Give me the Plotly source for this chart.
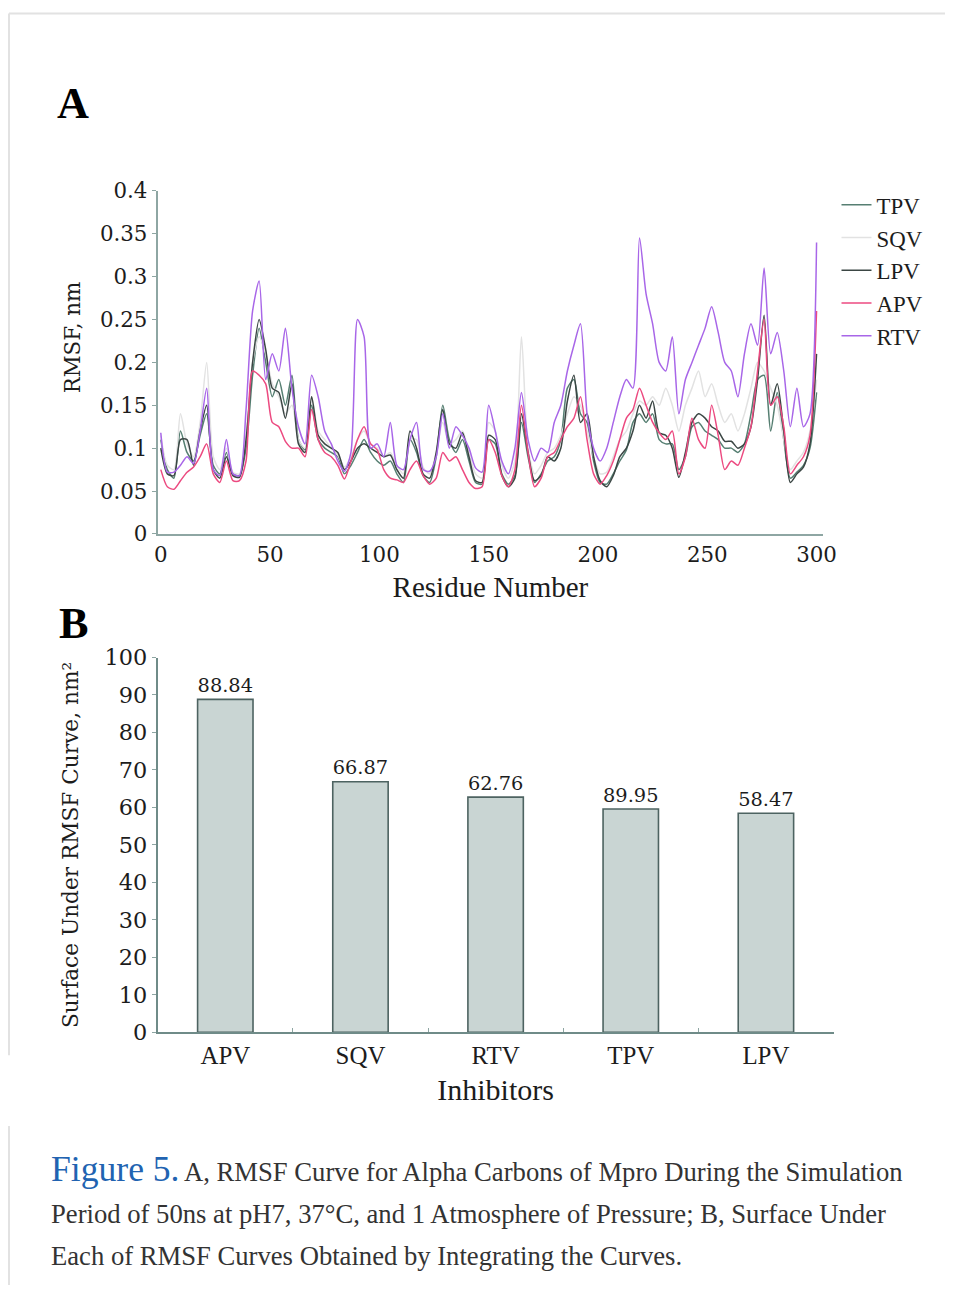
import plotly.graph_objects as go

W, H = 959, 1298

# ---------------- data: panel A (RMSF, nm) ----------------
residues = list(range(0, 301, 3))

rmsf_tpv = [0.110, 0.075, 0.065, 0.120, 0.095, 0.085, 0.115, 0.140, 0.080, 0.070,
            0.095, 0.070, 0.068, 0.100, 0.185, 0.240, 0.200, 0.160, 0.180, 0.150,
            0.185, 0.110, 0.098, 0.150, 0.110, 0.100, 0.095, 0.090, 0.070, 0.080,
            0.095, 0.110, 0.095, 0.085, 0.080, 0.085, 0.070, 0.060, 0.110, 0.095,
            0.068, 0.060, 0.090, 0.150, 0.110, 0.095, 0.110, 0.085, 0.060, 0.058,
            0.110, 0.105, 0.070, 0.058, 0.068, 0.130, 0.090, 0.060, 0.070, 0.085,
            0.090, 0.110, 0.170, 0.180, 0.140, 0.130, 0.085, 0.060, 0.058, 0.070,
            0.085, 0.098, 0.130, 0.140, 0.130, 0.140, 0.110, 0.105, 0.105, 0.075,
            0.090, 0.125, 0.130, 0.120, 0.115, 0.110, 0.100, 0.100, 0.095, 0.105,
            0.140, 0.180, 0.185, 0.120, 0.165, 0.110, 0.065, 0.072, 0.080, 0.100,
            0.165]

rmsf_sqv = [0.115, 0.080, 0.075, 0.140, 0.105, 0.090, 0.130, 0.200, 0.090, 0.075,
            0.100, 0.072, 0.070, 0.115, 0.200, 0.230, 0.210, 0.175, 0.160, 0.140,
            0.150, 0.110, 0.100, 0.160, 0.120, 0.110, 0.100, 0.092, 0.078, 0.090,
            0.110, 0.120, 0.105, 0.100, 0.090, 0.095, 0.080, 0.070, 0.110, 0.110,
            0.078, 0.070, 0.095, 0.130, 0.105, 0.110, 0.120, 0.095, 0.070, 0.065,
            0.130, 0.120, 0.080, 0.065, 0.085, 0.230, 0.100, 0.070, 0.080, 0.095,
            0.100, 0.115, 0.140, 0.160, 0.150, 0.120, 0.090, 0.070, 0.072, 0.090,
            0.110, 0.120, 0.140, 0.155, 0.150, 0.160, 0.150, 0.170, 0.150, 0.120,
            0.150, 0.170, 0.190, 0.160, 0.175, 0.150, 0.130, 0.140, 0.120, 0.140,
            0.170, 0.200, 0.190, 0.170, 0.150, 0.110, 0.075, 0.085, 0.095, 0.120,
            0.180]

rmsf_lpv = [0.100, 0.070, 0.068, 0.110, 0.110, 0.080, 0.120, 0.150, 0.075, 0.065,
            0.090, 0.068, 0.066, 0.110, 0.200, 0.250, 0.215, 0.170, 0.165, 0.135,
            0.175, 0.105, 0.095, 0.160, 0.115, 0.105, 0.100, 0.095, 0.075, 0.085,
            0.100, 0.105, 0.100, 0.095, 0.090, 0.092, 0.075, 0.065, 0.120, 0.100,
            0.070, 0.065, 0.095, 0.145, 0.105, 0.100, 0.118, 0.090, 0.062, 0.060,
            0.115, 0.110, 0.068, 0.055, 0.065, 0.140, 0.095, 0.062, 0.068, 0.090,
            0.085, 0.100, 0.155, 0.185, 0.130, 0.140, 0.090, 0.062, 0.055, 0.068,
            0.090, 0.100, 0.120, 0.150, 0.135, 0.155, 0.118, 0.115, 0.100, 0.066,
            0.095, 0.130, 0.140, 0.135, 0.125, 0.120, 0.108, 0.108, 0.100, 0.105,
            0.125, 0.180, 0.255, 0.150, 0.175, 0.120, 0.060, 0.070, 0.078, 0.105,
            0.210]

rmsf_apv = [0.075, 0.055, 0.052, 0.062, 0.072, 0.078, 0.090, 0.105, 0.070, 0.060,
            0.085, 0.062, 0.062, 0.085, 0.190, 0.185, 0.175, 0.130, 0.125, 0.108,
            0.100, 0.100, 0.090, 0.145, 0.110, 0.095, 0.090, 0.080, 0.064, 0.085,
            0.110, 0.125, 0.105, 0.098, 0.075, 0.065, 0.063, 0.060, 0.075, 0.085,
            0.068, 0.058, 0.065, 0.095, 0.085, 0.090, 0.075, 0.060, 0.053, 0.055,
            0.110, 0.095, 0.068, 0.055, 0.075, 0.150, 0.095, 0.055, 0.065, 0.090,
            0.095, 0.110, 0.125, 0.135, 0.160, 0.110, 0.070, 0.058, 0.068, 0.085,
            0.110, 0.135, 0.145, 0.170, 0.150, 0.130, 0.118, 0.110, 0.120, 0.070,
            0.090, 0.135, 0.110, 0.100, 0.150, 0.115, 0.075, 0.085, 0.080, 0.100,
            0.125, 0.190, 0.250, 0.150, 0.160, 0.125, 0.070, 0.080, 0.090, 0.115,
            0.260]

rmsf_rtv = [0.118, 0.072, 0.072, 0.080, 0.090, 0.082, 0.120, 0.170, 0.075, 0.068,
            0.110, 0.070, 0.068, 0.145, 0.260, 0.295, 0.180, 0.210, 0.190, 0.240,
            0.170, 0.125, 0.105, 0.185, 0.160, 0.120, 0.105, 0.085, 0.073, 0.095,
            0.250, 0.230, 0.100, 0.105, 0.090, 0.130, 0.080, 0.075, 0.110, 0.130,
            0.075, 0.073, 0.090, 0.140, 0.100, 0.125, 0.115, 0.100, 0.077, 0.072,
            0.150, 0.120, 0.085, 0.070, 0.100, 0.165, 0.110, 0.085, 0.100, 0.095,
            0.130, 0.150, 0.190, 0.220, 0.245, 0.140, 0.100, 0.085, 0.100, 0.130,
            0.160, 0.180, 0.170, 0.345, 0.280, 0.245, 0.200, 0.190, 0.230, 0.140,
            0.180, 0.200, 0.220, 0.240, 0.265, 0.235, 0.200, 0.190, 0.160, 0.210,
            0.245, 0.220, 0.310, 0.210, 0.235, 0.190, 0.125, 0.170, 0.125, 0.140,
            0.340]

series_names = ["TPV", "SQV", "LPV", "APV", "RTV"]
series_values = [rmsf_tpv, rmsf_sqv, rmsf_lpv, rmsf_apv, rmsf_rtv]
series_colors = ["#567f72", "#e2e2e2", "#3b4644", "#ec4a80", "#a866e8"]

# ---------------- data: panel B (surface under curve) ----------------
inhibitors = ["APV", "SQV", "RTV", "TPV", "LPV"]
surface_bar_heights = [88.84, 66.87, 62.76, 59.6, 58.47]
surface_labels = ["88.84", "66.87", "62.76", "89.95", "58.47"]

y_ticks_a = [0, 0.05, 0.1, 0.15, 0.2, 0.25, 0.3, 0.35, 0.4]
y_ticklabels_a = ["0", "0.05", "0.1", "0.15", "0.2", "0.25", "0.3", "0.35", "0.4"]
x_ticks_a = [0, 50, 100, 150, 200, 250, 300]
y_ticks_b = list(range(0, 101, 10))

# the rendered page is photographed slightly reduced; positions below are
# given in target-picture pixels and converted to figure fractions
S, OX, OY = 0.983, 3.0, 10.5


def px_x(p):
    return min(1.0, max(0.0, (p - OX) / S / W))


def px_y(p):
    return min(1.0, max(0.0, 1 - (p - OY) / S / H))


def fs(size):
    return size / S


SERIF = "DejaVu Serif"
TIMES = "Liberation Serif"
AXIS_COL = "#8ea6a3"
TXT = "#1c1c1c"

fig = go.Figure()

for name, vals, col in zip(series_names, series_values, series_colors):
    fig.add_trace(go.Scatter(
        x=residues, y=vals, mode="lines", name=name,
        line=dict(color=col, width=1.5, shape="spline", smoothing=0.7),
        xaxis="x", yaxis="y",
    ))

fig.add_trace(go.Bar(
    x=inhibitors, y=surface_bar_heights, text=surface_labels,
    textposition="outside", cliponaxis=False,
    textfont=dict(family=SERIF, size=fs(21.5), color=TXT),
    marker=dict(color="#c9d5d3", line=dict(color="#4d6361", width=1.6)),
    width=0.41, showlegend=False, xaxis="x2", yaxis="y2",
))

shapes = [
    dict(type="line", xref="paper", yref="paper", x0=px_x(8), x1=1, y0=px_y(11), y1=px_y(11),
         line=dict(color="#e2e2e2", width=2)),
    dict(type="line", xref="paper", yref="paper", x0=px_x(8), x1=px_x(8), y0=px_y(11), y1=px_y(1056),
         line=dict(color="#e2e2e2", width=2)),
    dict(type="line", xref="paper", yref="paper", x0=px_x(8), x1=px_x(8), y0=px_y(1127), y1=0,
         line=dict(color="#e2e2e2", width=2)),
]


def note(text, x, y, size, family=TIMES, color="#333", angle=0, xanchor="left"):
    return dict(text=text, x=px_x(x), y=px_y(y), xref="paper", yref="paper",
                xanchor=xanchor, yanchor="middle", showarrow=False, textangle=angle,
                font=dict(family=family, size=fs(size), color=color))


annotations = [
    note("<b>A</b>", 54, 101, 43.5, color="#000"),
    note("<b>B</b>", 56, 623, 43.5, color="#000"),
    note("RMSF, nm", 72, 336, 21, family=SERIF, color=TXT, angle=-90, xanchor="center"),
    note("Figure 5.", 48, 1170, 35, color="#2163b1"),
    note("A, RMSF Curve for Alpha Carbons of Mpro During the Simulation", 181, 1173, 26.2),
    note("Period of 50ns at pH7, 37°C, and 1 Atmosphere of Pressure; B, Surface Under", 48, 1215, 26.2),
    note("Each of RMSF Curves Obtained by Integrating the Curves.", 48, 1257, 26.2),
]

fig.update_layout(
    width=W, height=H, autosize=False,
    margin=dict(l=0, r=0, t=0, b=0),
    paper_bgcolor="white", plot_bgcolor="white",
    shapes=shapes, annotations=annotations,
    legend=dict(x=px_x(837), y=px_y(181.5), xanchor="left", yanchor="top",
                font=dict(family=TIMES, size=fs(22.5), color=TXT),
                bgcolor="rgba(0,0,0,0)", itemwidth=30, tracegroupgap=0),
    xaxis=dict(domain=[px_x(157), px_x(823.6)], range=[-1.4, 303],
               tickvals=x_ticks_a, ticks="", showgrid=False, zeroline=False,
               showline=True, linecolor=AXIS_COL, linewidth=2,
               tickfont=dict(family=SERIF, size=fs(21), color=TXT),
               title=dict(text="Residue Number", standoff=11,
                          font=dict(family=TIMES, size=fs(28.5), color=TXT)),
               anchor="y"),
    yaxis=dict(domain=[px_y(533), px_y(189)], range=[0, 0.4],
               tickvals=y_ticks_a, ticktext=y_ticklabels_a,
               ticks="outside", ticklen=4, tickcolor=AXIS_COL, tickwidth=1,
               showgrid=False, zeroline=False,
               showline=True, linecolor=AXIS_COL, linewidth=2,
               tickfont=dict(family=SERIF, size=fs(21), color=TXT),
               anchor="x"),
    xaxis2=dict(domain=[px_x(157), px_x(834)], range=[-0.5, 4.5],
                type="category", tickson="boundaries", ticks="inside", ticklen=4,
                tickcolor=AXIS_COL, showgrid=False, zeroline=False,
                showline=True, linecolor="#6f8b88", linewidth=2,
                tickfont=dict(family=TIMES, size=fs(24.5), color=TXT),
                title=dict(text="Inhibitors", standoff=11,
                           font=dict(family=TIMES, size=fs(29.5), color=TXT)),
                anchor="y2"),
    yaxis2=dict(domain=[px_y(1033), px_y(657)], range=[0, 100],
                tickvals=y_ticks_b, ticks="outside", ticklen=4, tickcolor=AXIS_COL,
                showgrid=False, zeroline=False,
                showline=True, linecolor="#6f8b88", linewidth=2,
                tickfont=dict(family=SERIF, size=fs(22), color=TXT),
                title=dict(text="Surface Under RMSF Curve, nm²", standoff=20,
                           font=dict(family=SERIF, size=fs(21.3), color=TXT)),
                anchor="x2"),
)

fig.write_html(
    "out.html",
    config={"displayModeBar": False},
    post_script=(
        "document.documentElement.style.margin='0';"
        "document.documentElement.style.padding='0';"
        "document.body.style.margin='0';"
        "document.body.style.padding='0';"
        "document.documentElement.style.overflow='hidden';"
    ),
)
